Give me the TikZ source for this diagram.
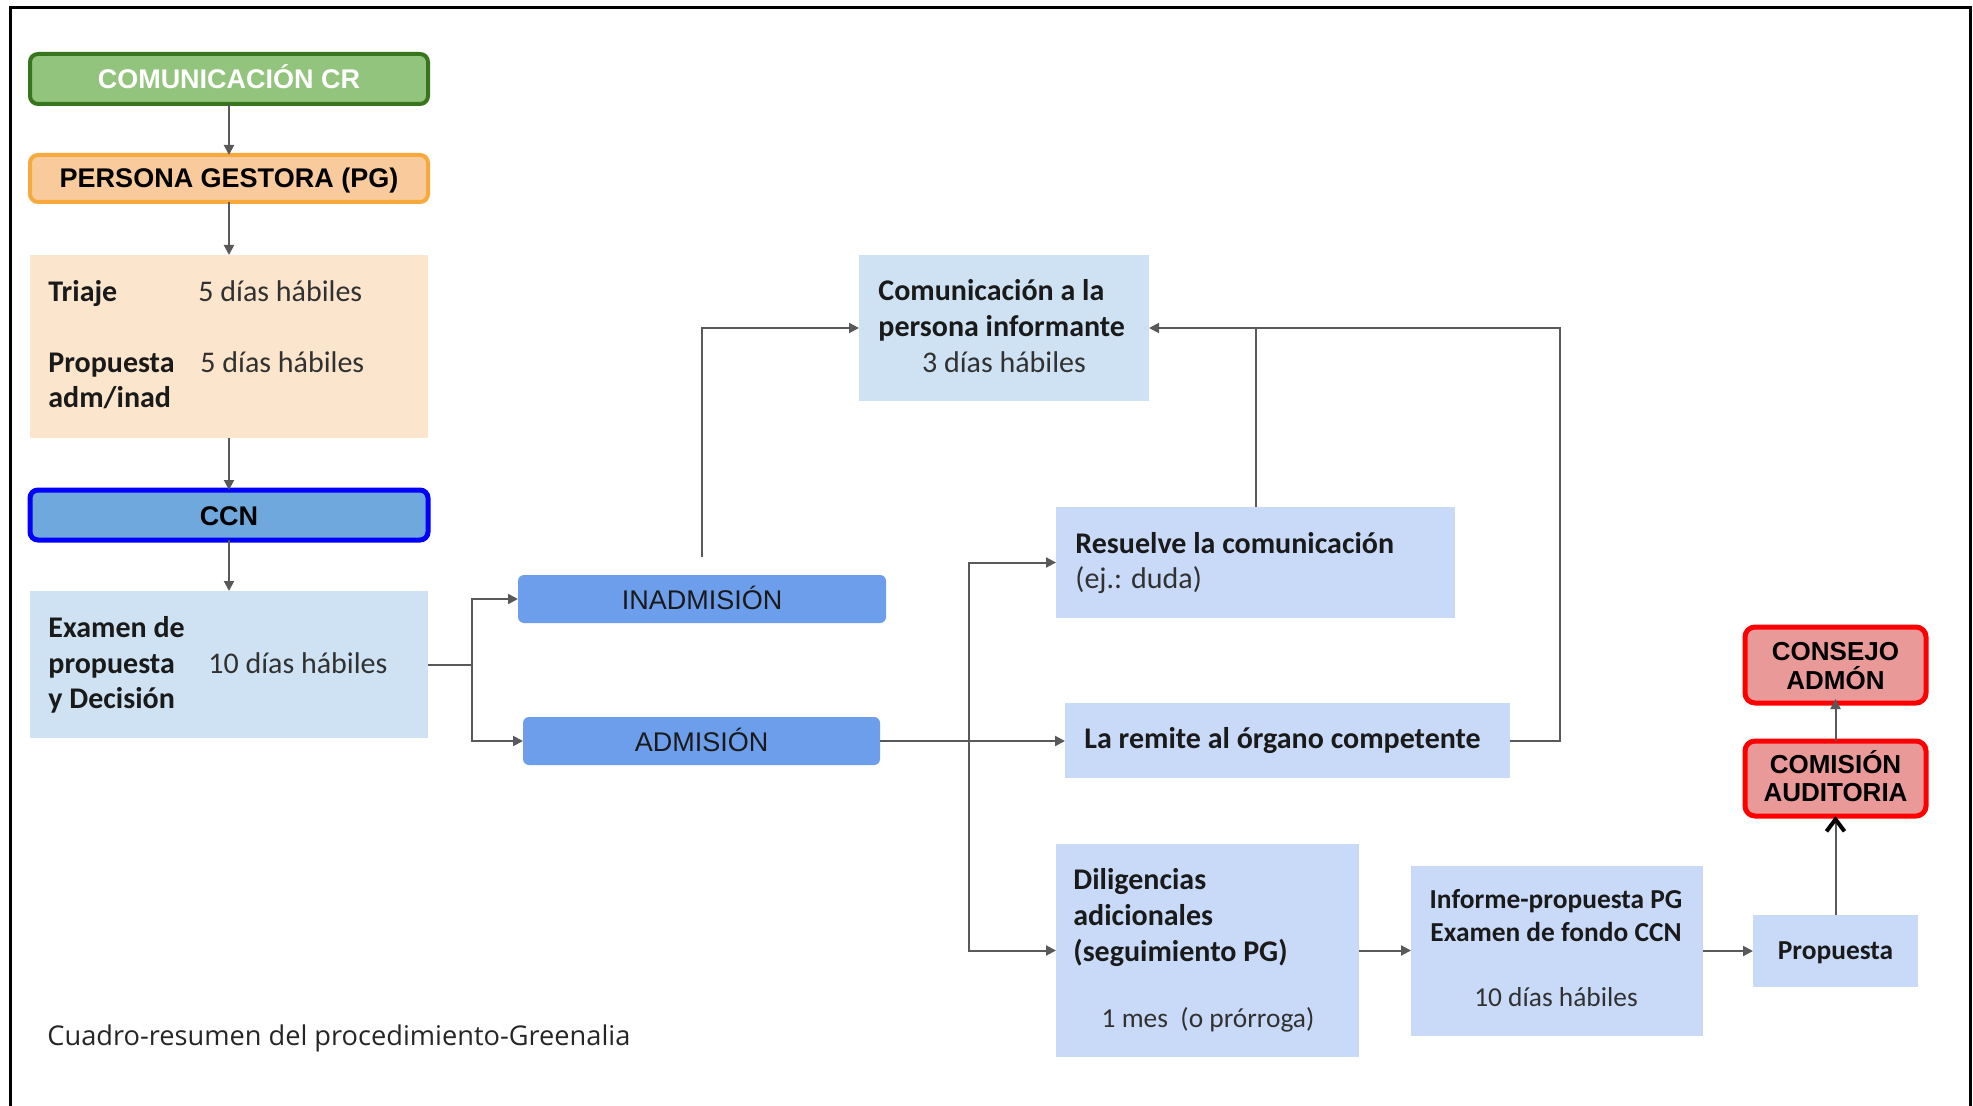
\documentclass[tikz,border=0pt]{standalone}
\usepackage{fontspec}
\setmainfont{Carlito}
\newfontfamily\arialf{Liberation Sans}
\newfontfamily\osansf{Open Sans}
\usetikzlibrary{arrows.meta,fit,calc}
\definecolor{greenfill}{HTML}{93C47D}
\definecolor{greenline}{HTML}{38761D}
\definecolor{orangefill}{HTML}{F9CB9C}
\definecolor{orangeline}{HTML}{F7A93B}
\definecolor{peach}{HTML}{FCE5CD}
\definecolor{ccnfill}{HTML}{6FA8DC}
\definecolor{ccnline}{HTML}{0000FF}
\definecolor{lightblue}{HTML}{CFE2F3}
\definecolor{cornflower}{HTML}{6D9EEB}
\definecolor{lightcorn}{HTML}{C9DAF8}
\definecolor{redfill}{HTML}{EA9999}
\definecolor{redline}{HTML}{FF0000}
\definecolor{arrowgray}{HTML}{595959}
\definecolor{textdark}{HTML}{1A1A1A}
\tikzset{
  pbox/.style={inner sep=0pt, outer sep=0pt},
  hdrbox/.style={pbox, line width=2pt, rounded corners=4pt},
  redbox/.style={pbox, fill=redfill, draw=redline, line width=2.5pt, rounded corners=5pt},
  pill/.style={pbox, fill=cornflower, rounded corners=3pt},
  hdr/.style={font=\arialf\bfseries\fontsize{13.5}{16}\selectfont, inner sep=0pt, anchor=base},
  hdrsm/.style={font=\arialf\bfseries\fontsize{13}{14}\selectfont, inner sep=0pt, anchor=base},
  pilltxt/.style={font=\arialf\fontsize{13.5}{16}\selectfont, text=textdark, inner sep=0pt, anchor=base},
  tb/.style={font=\bfseries\fontsize{15}{18}\selectfont, text=textdark, inner sep=0pt, anchor=base west},
  tr/.style={font=\fontsize{15}{18}\selectfont, text=textdark!90, inner sep=0pt, anchor=base west},
  tbc/.style={tb, anchor=base},
  trc/.style={tr, anchor=base},
  tbs/.style={tbc, font=\bfseries\fontsize{13.7}{16}\selectfont},
  trs/.style={trc, font=\fontsize{13.7}{16}\selectfont},
  line/.style={draw=arrowgray, line width=1pt},
  conn/.style={line, -{Triangle[length=5pt,width=5pt]}},
  barb/.style={line, -{Straight Barb[length=6pt,width=9pt,line width=2pt,black]}}
}
\begin{document}
\begin{tikzpicture}[x=0.5pt,y=-0.5pt]
\useasboundingbox (0,0) rectangle (1973,1106);
\fill[white] (0,0) rectangle (1973,1106);
\draw[black, line width=1.5pt] (10,1110) -- (10,8) -- (1970,8) -- (1970,1110);

% left column
\node[hdrbox, fill=greenfill, draw=greenline, fit={(30,54)(428,104)}] (ccr) {};
\node[hdr, text=white] (ccrt) at (229,89) {COMUNICACIÓN CR};
\node[hdrbox, fill=orangefill, draw=orangeline, fit={(30,155)(428,202)}] (pg) {};
\node[hdr, text=black] (pgt) at (229,188) {PERSONA GESTORA (PG)};
\node[pbox, fill=peach, fit={(30,255)(428,438)}] (tri) {};
\node[tb] (tri1) at (48,302) {Triaje};
\node[tr] (tri2) at (198,302) {5 días hábiles};
\node[tb] (tri3) at (48,373) {Propuesta};
\node[tr] (tri4) at (200,373) {5 días hábiles};
\node[tb] (tri5) at (48,408) {adm/inad};
\node[hdrbox, fill=ccnfill, draw=ccnline, line width=2.5pt, fit={(30,490)(428,540)}] (ccn) {};
\node[hdr, text=black] (ccnt) at (229,525) {CCN};
\node[pbox, fill=lightblue, fit={(30,591)(428,738)}] (exa) {};
\node[tb] (exa1) at (48,637) {Examen de};
\node[tb] (exa2) at (48,673) {propuesta};
\node[tb] (exa3) at (48,708) {y Decisión};
\node[tr] (exa4) at (208,673) {10 días hábiles};

% middle
\node[pill, fit={(518,575)(886,623)}] (inad) {};
\node[pilltxt] (inadt) at (702,609) {INADMISIÓN};
\node[pill, fit={(523,717)(880,765)}] (adm) {};
\node[pilltxt] (admt) at (701.5,751) {ADMISIÓN};

\node[pbox, fill=lightblue, fit={(859,255)(1149,401)}] (com) {};
\node[tb] (com1) at (878,301) {Comunicación a la};
\node[tb] (com2t) at (878,337) {persona informante};
\node[trc] (com3) at (1004,373) {3 días hábiles};

\node[pbox, fill=lightcorn, fit={(1056,507)(1455,618)}] (res) {};
\node[tb] (res1) at (1075,553) {Resuelve la comunicación};
\node[tr] (res2) at (1075,588) {(ej.: duda)};

\node[pbox, fill=lightcorn, fit={(1065,703)(1510,778)}] (rem) {};
\node[tb] (rem1) at (1084,748) {La remite al órgano competente};

\node[pbox, fill=lightcorn, fit={(1056,844)(1359,1057)}] (dil) {};
\node[tb] (dil1) at (1073,889) {Diligencias};
\node[tb] (dil2) at (1073,925) {adicionales};
\node[tb] (dil3) at (1073,961) {(seguimiento PG)};
\node[trs] (dil4) at (1208,1027) {1 mes~~(o prórroga)};

\node[pbox, fill=lightcorn, fit={(1411,866)(1703,1036)}] (inf) {};
\node[tbs] (inf1) at (1556,908) {Informe-propuesta PG};
\node[tbs] (inf2) at (1556,941) {Examen de fondo CCN};
\node[trs] (inf3) at (1556,1006) {10 días hábiles};

\node[pbox, fill=lightcorn, fit={(1753,915)(1918,987)}] (prop) {};
\node[tbs] (propt) at (1835.5,959) {Propuesta};

\node[redbox, fit={(1745,741)(1926,816)}] (cau) {};
\node[hdrsm] (cau1) at (1835.5,773) {COMISIÓN};
\node[hdrsm] (cau2) at (1835.5,801) {AUDITORIA};
\node[redbox, fit={(1745,627)(1926,703)}] (cons) {};
\node[hdrsm] (cons1) at (1835.5,660) {CONSEJO};
\node[hdrsm] (cons2) at (1835.5,689) {ADMÓN};

\node[font=\osansf\fontsize{13.6}{16}\selectfont, text=black!85, inner sep=0pt, anchor=base west] (cap) at (47,1045) {Cuadro-resumen del procedimiento-Greenalia};

% connectors
\draw[conn] (ccr.south) -- (pg.north);
\draw[conn] (pg.south) -- (tri.north);
\draw[conn] (tri.south) -- (ccn.north);
\draw[conn] (ccn.south) -- (exa.north);
\coordinate (s1) at (472,664.5);
\draw[line] (exa.east) -- (s1);
\draw[conn] (s1) |- (inad.west);
\draw[conn] (s1) |- (adm.west);
\draw[conn] ([yshift=9pt]inad.north) |- (com.west);
\draw[conn] (adm.east) -- (adm.east -| rem.west);
\coordinate (s2) at (969,741);
\draw[conn] (s2) |- (res.west);
\draw[conn] (s2) |- (dil.west);
\coordinate (s3) at (1560,328);
\draw[conn] (rem.east) -| (s3) |- (com.east);
\draw[line] (res.north) -- (res.north |- com.east);
\draw[conn] (dil.east) -- (dil.east -| inf.west);
\draw[conn] (inf.east) -- (inf.east -| prop.west);
\draw[barb] (prop.north) -- (cau.south);
\draw[conn] (cau.north) -- ([yshift=2pt]cons.south);
\end{tikzpicture}
\end{document}
